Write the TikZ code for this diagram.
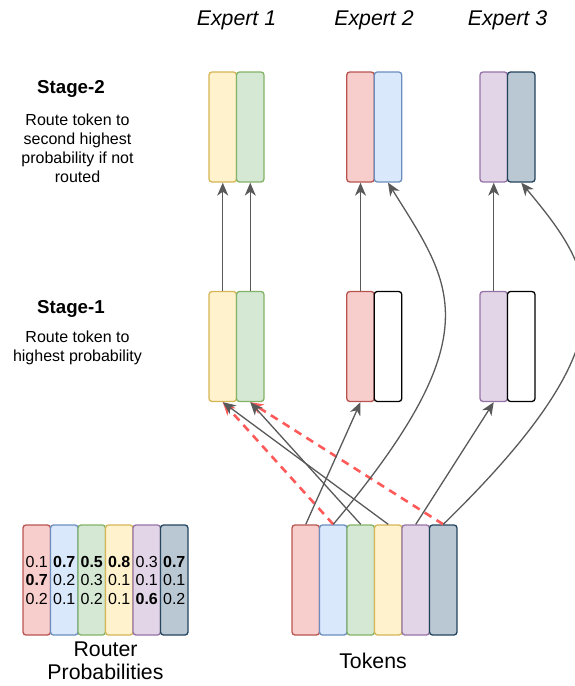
\documentclass[tikz,border=0pt]{standalone}
\usepackage{fontspec}
\setmainfont{Liberation Sans}
\usetikzlibrary{arrows.meta}

\definecolor{redfill}{HTML}{F8CECC}    \definecolor{redline}{HTML}{B85450}
\definecolor{bluefill}{HTML}{DAE8FC}   \definecolor{blueline}{HTML}{6C8EBF}
\definecolor{greenfill}{HTML}{D5E8D4}  \definecolor{greenline}{HTML}{82B366}
\definecolor{yellowfill}{HTML}{FFF2CC} \definecolor{yellowline}{HTML}{D6B656}
\definecolor{purplefill}{HTML}{E1D5E7} \definecolor{purpleline}{HTML}{9673A6}
\definecolor{slatefill}{HTML}{BAC8D3}  \definecolor{slateline}{HTML}{23445D}
\definecolor{whitefill}{HTML}{FFFFFF}  \definecolor{whiteline}{HTML}{000000}
\definecolor{wire}{HTML}{595959}
\definecolor{reject}{HTML}{FF5A5A}

\begin{document}
\begin{tikzpicture}[x=1pt, y=-1pt, >={Stealth[length=13pt,width=11pt,inset=4pt]},
    font=\fontsize{16}{19}\selectfont,
    bar/.style={draw, line width=1.3pt, rounded corners=3pt, minimum width=27.5pt, minimum height=110pt, inner sep=0pt},
    link/.style={->, draw=wire, line width=1.3pt},
    miss/.style={->, draw=reject, line width=2.6pt, dash pattern=on 8pt off 6pt},
    big/.style={font=\fontsize{21.3}{23.5}\selectfont, align=center},
    head/.style={font=\fontsize{18.7}{22}\selectfont\bfseries}]

    \useasboundingbox (0,0) rectangle (575,686);

    \node[big, font=\fontsize{21.3}{24}\selectfont\itshape, anchor=base] (ex1) at (236.5,25) {Expert 1};
    \node[big, font=\fontsize{21.3}{24}\selectfont\itshape, anchor=base] (ex2) at (374,25) {Expert 2};
    \node[big, font=\fontsize{21.3}{24}\selectfont\itshape, anchor=base] (ex3) at (507.5,25) {Expert 3};

    \node[head, anchor=base] (st2) at (71,93) {Stage-2};
    \node[align=center] (st2txt) at (77.5,148) {Route token to\\second highest\\probability if not\\routed};
    \node[head, anchor=base] (st1) at (71,313) {Stage-1};
    \node[align=center] (st1txt) at (77.5,348) {Route token to\\highest probability};

    \foreach \col/\x [count=\i] in {yellow/222.75, green/250.25, red/360.5, blue/388, purple/493.75, slate/521.25}
        \node[bar, fill=\col fill, draw=\col line] (two\i) at (\x,127) {};
    \foreach \col/\x [count=\i] in {yellow/222.75, green/250.25, red/360.5, white/388, purple/493.75, white/521.25}
        \node[bar, fill=\col fill, draw=\col line] (one\i) at (\x,346.5) {};

    \foreach \col [count=\i] in {red, blue, green, yellow, purple, slate}
        \node[bar, fill=\col fill, draw=\col line] (tok\i) at (278.25+27.5*\i,580) {};
    \foreach \col/\a/\b/\d [count=\i] in {red/0.1/\textbf{0.7}/0.2, blue/\textbf{0.7}/0.2/0.1, green/\textbf{0.5}/0.3/0.2,
            yellow/\textbf{0.8}/0.1/0.1, purple/0.3/0.1/\textbf{0.6}, slate/\textbf{0.7}/0.1/0.2}
        \node[bar, fill=\col fill, draw=\col line, font=\fontsize{16}{18.5}\selectfont, align=center] (rp\i) at (9.25+27.5*\i,580) {\a\\\b\\\d};

    \node[big] (rplab) at (105.5,661) {Router\\Probabilities};
    \node[big, anchor=base] (toklab) at (373,668) {Tokens};

    \draw[miss] (tok2.north) -- (one1.south);
    \draw[miss] (tok6.north) -- (one2.south);

    \draw[link] (tok1.north) -- (one3.south);
    \draw[link] (tok3.north) -- (one2.south);
    \draw[link] (tok4.north) -- (one1.south);
    \draw[link] (tok5.north) -- (one5.south);
    \draw[link] (tok2.north) .. controls +(160.75,-191.5) and +(63.6,102) .. (two4.south);
    \draw[link] (tok6.north) .. controls +(195,-190) and +(75,90) .. (two6.south);

    \foreach \i in {1,2,3,5}
        \draw[link] (one\i.north) -- (two\i.south);

\end{tikzpicture}
\end{document}
